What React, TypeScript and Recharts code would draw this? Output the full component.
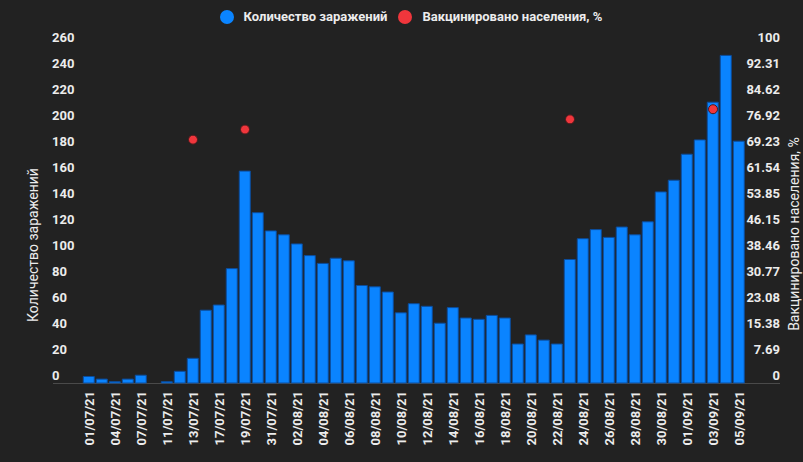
import React from 'react';
import { ComposedChart, Bar, Line, XAxis, YAxis } from 'recharts';

const dates = [
  '01/07/21', '03/07/21', '04/07/21', '06/07/21', '07/07/21', '09/07/21', '11/07/21', '12/07/21',
  '13/07/21', '15/07/21', '17/07/21', '18/07/21', '19/07/21', '20/07/21', '31/07/21', '01/08/21',
  '02/08/21', '03/08/21', '04/08/21', '05/08/21', '06/08/21', '07/08/21', '08/08/21', '09/08/21',
  '10/08/21', '11/08/21', '12/08/21', '13/08/21', '14/08/21', '15/08/21', '16/08/21', '17/08/21',
  '18/08/21', '19/08/21', '20/08/21', '21/08/21', '22/08/21', '23/08/21', '24/08/21', '25/08/21',
  '26/08/21', '27/08/21', '28/08/21', '29/08/21', '30/08/21', '31/08/21', '01/09/21', '02/09/21',
  '03/09/21', '04/09/21', '05/09/21',
];

const cases = [
  5, 3, 1, 3, 6, 0, 1, 9, 19, 56, 60, 88, 163, 131, 117, 114,
  107, 98, 92, 96, 94, 75, 74, 70, 54, 61, 59, 46, 58, 50, 49, 52,
  50, 30, 37, 33, 30, 95, 111, 118, 112, 120, 114, 124, 147, 156, 176, 187,
  216, 252, 186,
];

// only a few days have a vaccination figure
const vaccinated: (number | null)[] = dates.map(() => null);
vaccinated[8] = 72;
vaccinated[12] = 75;
vaccinated[37] = 78;
vaccinated[48] = 81;

const leftTicks = [0, 20, 40, 60, 80, 100, 120, 140, 160, 180, 200, 220, 240, 260];
const rightTicks = [0, 7.69, 15.38, 23.08, 30.77, 38.46, 46.15, 53.85, 61.54, 69.23, 76.92, 84.62, 92.31, 100];

const data = dates.map((d, i) => ({ date: d, cases: cases[i], vac: vaccinated[i] }));

const BG = '#222222';
const BLUE = '#0a84ff';
const RED = '#f0363c';
const TXT = '#ececec';
const FONT = 'Roboto, sans-serif';

const LeftTick = (p: any) => (
  <text x={52} y={p.y - 8} dy="0.35em" textAnchor="start" fill={TXT} fontSize={13} fontWeight="bold" fontFamily={FONT}>
    {p.payload.value}
  </text>
);

const RightTick = (p: any) => (
  <text x={780} y={p.y - 8} dy="0.35em" textAnchor="end" fill={TXT} fontSize={13} fontWeight="bold" fontFamily={FONT}>
    {p.payload.value}
  </text>
);

const DateTick = (p: any) => (
  <text
    x={p.x}
    y={p.y}
    dy="0.35em"
    transform={`rotate(-90 ${p.x} ${p.y})`}
    textAnchor="end"
    fill={TXT}
    fontSize={13}
    fontWeight="bold"
    fontFamily={FONT}
  >
    {p.payload.value}
  </text>
);

function LegendItem({ color, text }: { color: string; text: string }) {
  return (
    <div style={{ display: 'flex', alignItems: 'center', marginRight: 11 }}>
      <span style={{ width: 14, height: 14, borderRadius: 7, background: color, marginRight: 10 }} />
      <span>{text}</span>
    </div>
  );
}

export default function App() {
  return (
    <div style={{ position: 'fixed', left: 0, top: 0, width: 803, height: 462, background: BG, overflow: 'hidden' }}>
      <div style={{ position: 'absolute', left: 53, top: 383, width: 727, height: 1, background: '#4a4a4a' }} />
      <div
        style={{
          position: 'absolute', left: 0, top: 9, width: 803, paddingLeft: 30, boxSizing: 'border-box',
          display: 'flex', justifyContent: 'center', color: TXT, fontFamily: FONT, fontSize: 13, fontWeight: 'bold',
        }}
      >
        <LegendItem color={BLUE} text="Количество заражений" />
        <LegendItem color={RED} text="Вакцинировано населения, %" />
      </div>
      <div style={{ position: 'absolute', left: 0, top: 0 }}>
        <ComposedChart width={803} height={462} data={data} margin={{ top: 45, right: 0.5, bottom: 0, left: 0.5 }} barCategoryGap="6%">
          <XAxis dataKey="date" interval={1} tickLine={false} axisLine={false} height={79} tick={<DateTick />} />
          <YAxis
            yAxisId="left"
            domain={[0, 260]}
            ticks={leftTicks}
            width={82}
            tickLine={false}
            axisLine={false}
            tick={<LeftTick />}
            label={{
              content: () => (
                <text x={33} y={245} transform="rotate(-90 33 245)" textAnchor="middle" dy="0.35em" fill={TXT} fontSize={14} fontFamily={FONT}>
                  Количество заражений
                </text>
              ),
            }}
          />
          <YAxis
            yAxisId="right"
            orientation="right"
            domain={[0, 100]}
            ticks={rightTicks}
            width={57}
            tickLine={false}
            axisLine={false}
            tick={<RightTick />}
            label={{
              content: () => (
                <text x={794} y={234} transform="rotate(-90 794 234)" textAnchor="middle" dy="0.35em" fill={TXT} fontSize={14} fontFamily={FONT}>
                  Вакцинировано населения, %
                </text>
              ),
            }}
          />
          <Bar yAxisId="left" dataKey="cases" fill={BLUE} stroke="#0b4c9c" strokeWidth={1} isAnimationActive={false} />
          <Line
            yAxisId="right"
            dataKey="vac"
            stroke="transparent"
            strokeWidth={0}
            dot={{ r: 4.5, fill: RED, stroke: '#4a1a1c', strokeWidth: 1 }}
            activeDot={false}
            isAnimationActive={false}
          />
        </ComposedChart>
      </div>
    </div>
  );
}
